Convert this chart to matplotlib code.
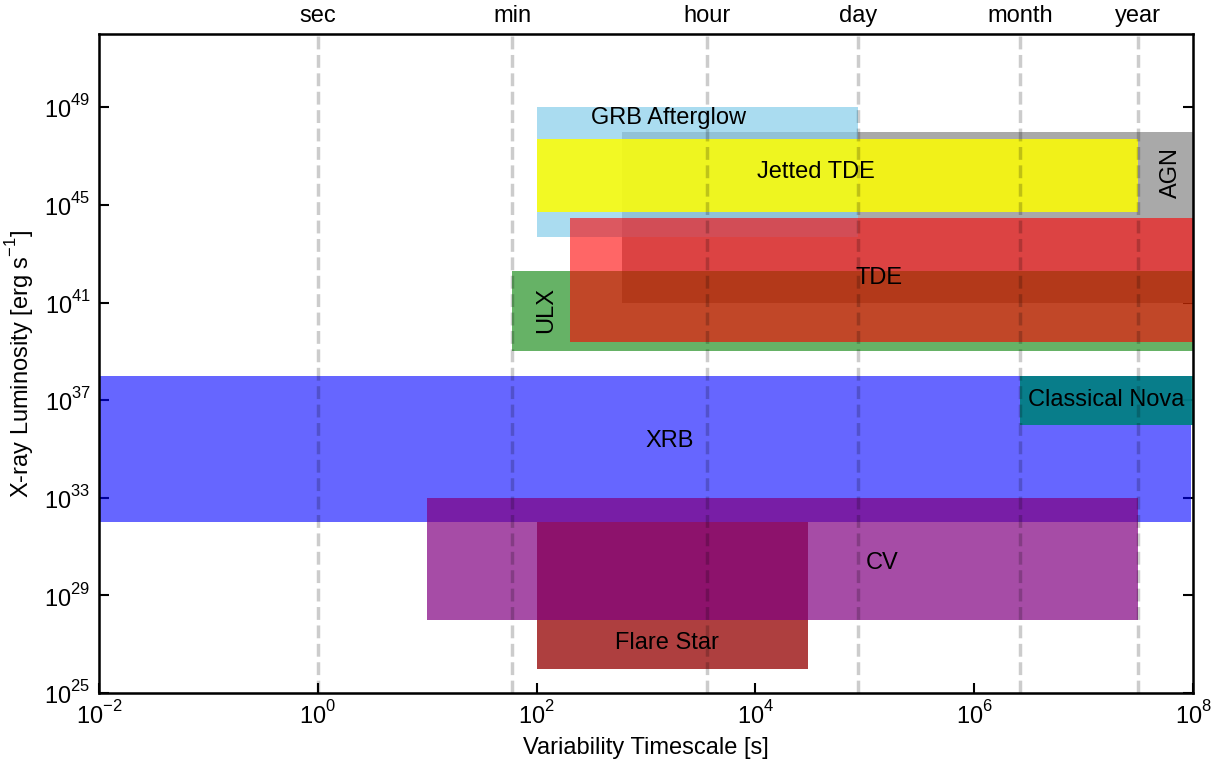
import math
import matplotlib
matplotlib.use("Agg")
import matplotlib.pyplot as plt

plt.rcParams["font.family"] = ["Liberation Sans", "DejaVu Sans"]
plt.rcParams["mathtext.fontset"] = "custom"
plt.rcParams["mathtext.rm"] = "Liberation Sans"
plt.rcParams["mathtext.it"] = "Liberation Sans:italic"
plt.rcParams["mathtext.bf"] = "Liberation Sans:bold"

# Raise the exponents a little, as in the original tick labels
#
try:
    from matplotlib import _mathtext
    _mathtext.FontConstantsBase.sup1 = 0.85
except (ImportError, AttributeError):
    pass

# Source classes, in drawing order
#
names = ["AGN", "GRB Afterglow", "Jetted TDE", "ULX", "TDE",
         "XRB", "Flare Star", "CV", "Classical Nova"]
t_min = [6e2, 1e2, 1e2, 60, 2e2, 1e-2, 1e2, 10, 2.63e6]
t_max = [1e8, 8.64e4, 3.156e7, 1e8, 1e8, 9.6e7, 3e4, 3.156e7, 1e8]
lum_min = [1e41, 5e43, 5e44, 1e39, 2.3e39, 1e32, 1e26, 1e28, 1e36]
lum_max = [1e48, 1e49, 5e47, 2e42, 3e44, 1e38, 1e32, 1e33, 1e38]
colors = ["darkgray", "skyblue", "yellow", "green", "red",
          "blue", "brown", "purple", "teal"]
alphas = [1.0, 0.7, 0.85, 0.6, 0.6, 0.6, 0.9, 0.7, 0.92]

# Label anchors (centre of text)
#
label_t = [6.3e7, 1.6e3, 3.6e4, 123, 1.35e5, 1.65e3, 1.56e3, 1.45e5, 1.6e7]
label_lum = [2.2e46, 3.5e48, 2.2e46, 5e40, 1e42, 2.2e35, 1.1e27, 2.1e30, 1e37]
label_rot = [90, 0, 0, 90, 0, 0, 0, 0, 0]

# Characteristic timescales for the top axis
#
scale_names = ["sec", "min", "hour", "day", "month", "year"]
scale_secs = [1, 60, 3600, 86400, 2.63e6, 3.156e7]

x_ticks = [1e-2, 1e0, 1e2, 1e4, 1e6, 1e8]
y_exps = list(range(25, 50, 4))

fig = plt.figure(figsize=(12.17, 7.7), dpi=100)
ax = fig.add_axes([0.0813, 0.1, 0.899, 0.8558])
ax.set_xscale("log")
ax.set_yscale("log")
ax.set_xlim(1e-2, 1e8)
ax.set_ylim(1e25, 1e52)

for i, name in enumerate(names):
    ax.fill_between([t_min[i], t_max[i]], lum_min[i], lum_max[i],
                    color=colors[i], alpha=alphas[i], lw=0, zorder=2)
    ax.text(label_t[i], label_lum[i], name, fontsize=17, rotation=label_rot[i],
            ha="center", va="center", zorder=5)

for t in scale_secs:
    ax.axvline(t, color="k", alpha=0.2, ls="--", lw=2.5, zorder=3)

ax.set_xticks(x_ticks)
ax.set_xticklabels([rf"$10^{{{int(round(math.log10(v)))}}}$" for v in x_ticks])
ax.set_yticks([10.0 ** e for e in y_exps])
ax.set_yticklabels([rf"$10^{{{e}}}$" for e in y_exps])
ax.minorticks_off()
ax.tick_params(which="major", direction="in", length=7, width=1.5,
               labelsize=17, pad=6, right=True, top=False)
for sp in ax.spines.values():
    sp.set_linewidth(1.8)

ax.set_xlabel("Variability Timescale [s]", fontsize=17, labelpad=6)
ax.set_ylabel(r"X-ray Luminosity [erg s$^{-1}$]", fontsize=17, labelpad=6)

# Top axis with named timescales
#
top = ax.twiny()
top.set_xscale("log")
top.set_xlim(ax.get_xlim())
top.set_xticks(scale_secs)
top.set_xticklabels(scale_names)
top.minorticks_off()
top.tick_params(length=0, labelsize=17, pad=5)

fig.savefig("out.png", dpi=100, facecolor="white")
